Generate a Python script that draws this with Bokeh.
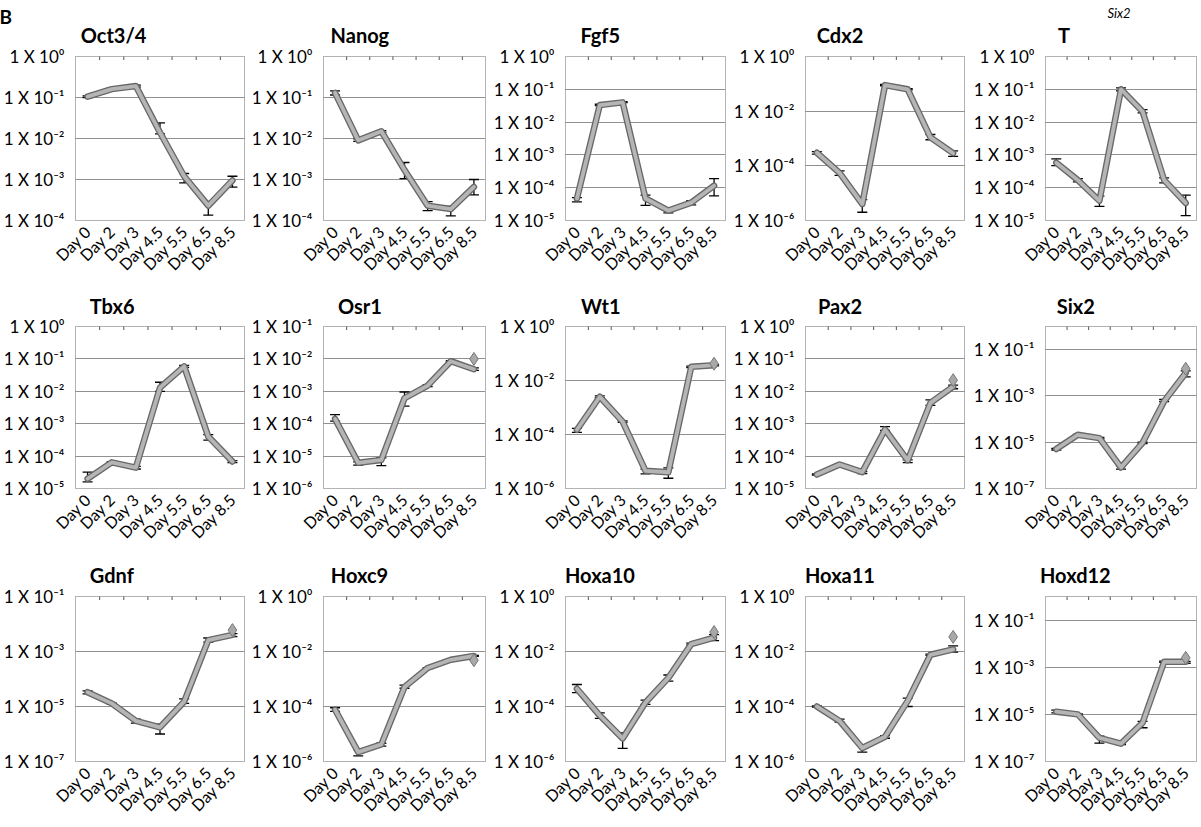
import math
from bokeh.plotting import figure
from bokeh.layouts import gridplot
from bokeh.models import (ColumnDataSource, FixedTicker, Whisker, TeeHead, Title,
                          Range1d)
from bokeh.embed import file_html
from bokeh.resources import INLINE

DAYS = ["Day 0", "Day 2", "Day 3", "Day 4.5", "Day 5.5", "Day 6.5", "Day 8.5"]

OCT4 = [0.105, 0.16, 0.19, 1.4e-2, 1.2e-3, 2.3e-4, 9.5e-4]
OCT4_HI = [0.11, 0.17, 0.2, 2.4e-2, 1.4e-3, 2.7e-4, 1.2e-3]
OCT4_LO = [0.1, 0.15, 0.18, 1.3e-2, 8.3e-4, 1.35e-4, 6.5e-4]

NANOG = [0.13, 9e-3, 1.5e-2, 1.7e-3, 2.3e-4, 1.9e-4, 6.6e-4]
NANOG_HI = [0.145, 9.8e-3, 1.55e-2, 2.6e-3, 2.9e-4, 2.2e-4, 1e-3]
NANOG_LO = [0.115, 8.5e-3, 1.4e-2, 1.05e-3, 1.75e-4, 1.3e-4, 4.2e-4]

FGF5 = [4.7e-5, 3.3e-2, 4e-2, 4.7e-5, 2e-5, 3.5e-5, 1.15e-4]
FGF5_HI = [5e-5, 3.5e-2, 4.2e-2, 5.9e-5, 2.2e-5, 4e-5, 1.9e-4]
FGF5_LO = [3.7e-5, 3.2e-2, 3.9e-2, 2.9e-5, 1.7e-5, 3e-5, 5.6e-5]

CDX2 = [3e-4, 5.5e-5, 4e-6, 9e-2, 6.3e-2, 1.1e-3, 2.9e-4]
CDX2_HI = [3.3e-4, 6.5e-5, 5.8e-6, 9.5e-2, 6.6e-2, 1.4e-3, 3.5e-4]
CDX2_LO = [2.7e-4, 4.5e-5, 2e-6, 8.5e-2, 6e-2, 9e-4, 2.2e-4]

T_GENE = [5.8e-4, 1.7e-4, 4e-5, 0.1, 2.1e-2, 1.7e-4, 3.4e-5]
T_GENE_HI = [7.6e-4, 1.9e-4, 5.5e-5, 0.11, 2.4e-2, 2e-4, 5.9e-5]
T_GENE_LO = [4.7e-4, 1.5e-4, 2.7e-5, 0.09, 1.9e-2, 1.4e-4, 1.4e-5]

TBX6 = [2e-5, 6.4e-5, 4.4e-5, 1.3e-2, 5.9e-2, 4e-4, 6.8e-5]
TBX6_HI = [3.2e-5, 6.8e-5, 4.8e-5, 1.9e-2, 6.3e-2, 4.6e-4, 7.2e-5]
TBX6_LO = [1.6e-5, 6e-5, 4e-5, 1e-2, 5.5e-2, 3.1e-4, 6.3e-5]

OSR1 = [1.4e-4, 6.2e-6, 7.6e-6, 6.1e-4, 1.5e-3, 8.5e-3, 4.8e-3]
OSR1_HI = [1.9e-4, 6.6e-6, 8.9e-6, 9.5e-4, 1.6e-3, 8.9e-3, 5.3e-3]
OSR1_LO = [1.2e-4, 5.3e-6, 5.1e-6, 3.5e-4, 1.4e-3, 8.1e-3, 4.4e-3]

WT1 = [1.5e-4, 2.5e-3, 3e-4, 4.5e-6, 4e-6, 3.2e-2, 3.7e-2]
WT1_HI = [1.7e-4, 2.7e-3, 3.2e-4, 5.2e-6, 5.8e-6, 3.4e-2, 3.9e-2]
WT1_LO = [1.2e-4, 2.3e-3, 2.8e-4, 3.5e-6, 2.4e-6, 3e-2, 3.5e-2]

PAX2 = [2.7e-5, 5.5e-5, 3.2e-5, 6.6e-4, 7.4e-5, 4.4e-3, 1.4e-2]
PAX2_HI = [2.8e-5, 5.8e-5, 3.4e-5, 8.1e-4, 7.7e-5, 5.4e-3, 1.55e-2]
PAX2_LO = [2.6e-5, 5.2e-5, 2.9e-5, 6.2e-4, 6.3e-5, 3.7e-3, 1.2e-2]

SIX2 = [5.1e-6, 2.1e-5, 1.5e-5, 8.1e-7, 9.4e-6, 5.9e-4, 9.8e-3]
SIX2_HI = [5.4e-6, 2.2e-5, 1.6e-5, 9.5e-7, 1e-5, 7e-4, 1.2e-2]
SIX2_LO = [4.6e-6, 2e-5, 1.4e-5, 6.9e-7, 8.8e-6, 5.7e-4, 6.7e-3]

GDNF = [3.3e-5, 1.3e-5, 3e-6, 1.75e-6, 1.5e-5, 2.6e-3, 4e-3]
GDNF_HI = [3.7e-5, 1.35e-5, 3.5e-6, 2.3e-6, 1.9e-5, 3.1e-3, 4.5e-3]
GDNF_LO = [2.9e-5, 1.2e-5, 2.5e-6, 1e-6, 1.3e-5, 2.2e-3, 3.5e-3]

HOXC9 = [7.6e-5, 2.2e-6, 4.2e-6, 5.1e-4, 2.5e-3, 5e-3, 6.9e-3]
HOXC9_HI = [9e-5, 2.7e-6, 4.6e-6, 6e-4, 2.6e-3, 5.2e-3, 7.2e-3]
HOXC9_LO = [6.6e-5, 1.6e-6, 3.6e-6, 4.6e-4, 2.4e-3, 4.8e-3, 6.6e-3]

HOXA10 = [4.4e-4, 4.7e-5, 6.9e-6, 1.4e-4, 1.1e-3, 1.85e-2, 3.2e-2]
HOXA10_HI = [6.3e-4, 5.9e-5, 1.1e-5, 1.7e-4, 1.4e-3, 2e-2, 4.1e-2]
HOXA10_LO = [3.2e-4, 3.7e-5, 3e-6, 1.2e-4, 8.4e-4, 1.7e-2, 2.5e-2]

HOXA11 = [1e-4, 3e-5, 3.1e-6, 7.9e-6, 1.6e-4, 7.6e-3, 1.2e-2]
HOXA11_HI = [1.05e-4, 3.5e-5, 3.6e-6, 8.8e-6, 2e-4, 8e-3, 1.6e-2]
HOXA11_LO = [9.5e-5, 2.7e-5, 2.2e-6, 7e-6, 1e-4, 7.2e-3, 9.5e-3]

HOXD12 = [1.3e-5, 1e-5, 1e-6, 5.7e-7, 4.4e-6, 1.7e-3, 1.7e-3]
HOXD12_HI = [1.5e-5, 1.05e-5, 1.2e-6, 6e-7, 5e-6, 1.8e-3, 1.75e-3]
HOXD12_LO = [1.15e-5, 9.5e-6, 6e-7, 5.2e-7, 2.7e-6, 1.6e-3, 1.45e-3]

GENES = ["Oct3/4", "Nanog", "Fgf5", "Cdx2", "T",
         "Tbx6", "Osr1", "Wt1", "Pax2", "Six2",
         "Gdnf", "Hoxc9", "Hoxa10", "Hoxa11", "Hoxd12"]
VALUES = [OCT4, NANOG, FGF5, CDX2, T_GENE, TBX6, OSR1, WT1, PAX2, SIX2,
          GDNF, HOXC9, HOXA10, HOXA11, HOXD12]
HIGHS = [OCT4_HI, NANOG_HI, FGF5_HI, CDX2_HI, T_GENE_HI, TBX6_HI, OSR1_HI, WT1_HI,
         PAX2_HI, SIX2_HI, GDNF_HI, HOXC9_HI, HOXA10_HI, HOXA11_HI, HOXD12_HI]
LOWS = [OCT4_LO, NANOG_LO, FGF5_LO, CDX2_LO, T_GENE_LO, TBX6_LO, OSR1_LO, WT1_LO,
        PAX2_LO, SIX2_LO, GDNF_LO, HOXC9_LO, HOXA10_LO, HOXA11_LO, HOXD12_LO]
# extra single point (diamond) at Day 8.5
EXTRA = [None, None, None, None, None,
         None, 1e-2, 4.2e-2, 2.2e-2, 1.5e-2,
         6e-3, 4.8e-3, 5.1e-2, 3.4e-2, 2.5e-3]

Y_MIN_EXP = [-4, -4, -5, -6, -5, -5, -6, -6, -5, -7, -7, -6, -6, -6, -7]
Y_MAX_EXP = [0, 0, 0, 0, 0, 0, -1, 0, 0, 0, -1, 0, 0, 0, 0]
TICK_EXPS = [[0, -1, -2, -3, -4], [0, -1, -2, -3, -4], [0, -1, -2, -3, -4, -5],
             [0, -2, -4, -6], [0, -1, -2, -3, -4, -5],
             [0, -1, -2, -3, -4, -5], [-1, -2, -3, -4, -5, -6], [0, -2, -4, -6],
             [0, -1, -2, -3, -4, -5], [-1, -3, -5, -7],
             [-1, -3, -5, -7], [0, -2, -4, -6], [0, -2, -4, -6], [0, -2, -4, -6],
             [-1, -3, -5, -7]]

PANEL_LETTER = "B"
SIDE_NOTE = "Six2"      # small italic note printed above the "T" panel

SUP = str.maketrans("0123456789-", "⁰¹²³⁴⁵⁶⁷⁸⁹⁻")

# ---- layout (pixels) ----
COL_W = [248, 242, 240, 240, 230]
COL_L = [68, 62, 63, 62, 63]
COL_R = [4, 5, 5, 6, 4]
ROW_TOP = [56, 41, 43]
ROW_FRAME = [169, 170, 172]
ROW_BOT = [58, 57, 58]
TITLE_STANDOFF = [19, 17, 19]
TITLE_SHIFT = -15          # title origin sits ~15px right of the frame's left edge

FONT = "Lato"
TITLE_PX = 20
# rough advance widths (em) of Lato Bold, used to centre titles left of frame centre
ADV = {'O': .80, 'c': .47, 't': .35, '3': .58, '/': .40, '4': .58, 'N': .76,
       'a': .52, 'n': .57, 'o': .57, 'g': .52, 'F': .56, 'f': .35, '5': .58,
       'C': .70, 'd': .57, 'x': .52, '2': .58, 'T': .60, 'b': .57, '6': .58,
       's': .43, 'r': .39, '1': .58, 'W': 1.02, 'P': .64, 'i': .27, 'S': .55,
       'G': .78, 'H': .78, '9': .58, '0': .58}


def text_w(s):
    return sum(ADV.get(ch, .55) for ch in s) * TITLE_PX


def style_title(t, text, offset, size, style, standoff):
    t.text = text
    t.align = "left"
    t.offset = offset
    t.text_font = FONT
    t.text_font_style = style
    t.text_font_size = size
    t.text_color = "black"
    t.standoff = standoff


N = len(DAYS)
XPOS = [k + 0.5 for k in range(N)]      # centre of each day's slot

figs = []
for i, gene in enumerate(GENES):
    r, c = divmod(i, 5)
    fw = COL_W[c] - COL_L[c] - COL_R[c]
    fh = ROW_FRAME[r]
    lo_e, hi_e = Y_MIN_EXP[i], Y_MAX_EXP[i]
    p = figure(x_range=Range1d(0, N), y_axis_type="log",
               y_range=Range1d(10.0 ** lo_e, 10.0 ** hi_e),
               width=COL_W[c], height=ROW_TOP[r] + fh + ROW_BOT[r],
               min_border_left=COL_L[c], min_border_right=COL_R[c],
               min_border_top=ROW_TOP[r], min_border_bottom=ROW_BOT[r],
               toolbar_location=None, output_backend="svg")
    p.outline_line_color = "#666666"
    p.outline_line_dash = "1 1"
    p.outline_line_width = 1
    p.background_fill_color = "white"
    p.border_fill_color = "white"

    # titles: p.title is the outermost line, added Titles sit next to the frame
    gene_offset = fw / 2 - 36 - text_w(gene) / 2 + TITLE_SHIFT
    if i == 0:
        style_title(p.title, PANEL_LETTER, 7 - COL_L[c] + TITLE_SHIFT,
                    "19px", "bold", -32)
        gt = Title()
        style_title(gt, gene, gene_offset, f"{TITLE_PX}px", "bold", TITLE_STANDOFF[r])
        p.add_layout(gt, "above")
    elif gene == "T":
        style_title(p.title, SIDE_NOTE, 62, "13px", "italic", -18)
        gt = Title()
        style_title(gt, gene, gene_offset - 12, f"{TITLE_PX}px", "bold",
                    TITLE_STANDOFF[r])
        p.add_layout(gt, "above")
    else:
        style_title(p.title, gene, gene_offset, f"{TITLE_PX}px", "bold",
                    TITLE_STANDOFF[r])

    ticks = [10.0 ** e for e in TICK_EXPS[i]]
    grid = [10.0 ** e for e in TICK_EXPS[i] if lo_e < e < hi_e]
    yax = p.yaxis[0]
    yax.ticker = FixedTicker(ticks=ticks)
    yax.major_label_overrides = {10.0 ** e: "1 X 10" + str(e).translate(SUP)
                                 for e in TICK_EXPS[i]}
    yax.axis_line_color = None
    yax.major_tick_line_color = None
    yax.minor_tick_line_color = None
    yax.major_label_standoff = 5
    yax.major_label_text_font = FONT
    yax.major_label_text_font_size = "17px"
    yax.major_label_text_color = "black"

    p.ygrid[0].ticker = FixedTicker(ticks=grid)
    p.ygrid.grid_line_color = "#222222"
    p.ygrid.grid_line_dash = "1 1"
    p.ygrid.grid_line_width = 1
    p.xgrid.grid_line_color = None

    xax = p.xaxis[0]
    xax.ticker = FixedTicker(ticks=XPOS)
    xax.major_label_overrides = {x: d for x, d in zip(XPOS, DAYS)}
    xax.major_label_orientation = math.pi / 4
    xax.axis_line_color = None
    xax.major_tick_line_color = None
    xax.minor_tick_line_color = None
    xax.major_label_standoff = 2
    xax.major_label_text_font = FONT
    xax.major_label_text_font_size = "16px"
    xax.major_label_text_color = "black"

    # small tick marks hanging from the top border, between the days
    p.scatter(list(range(1, N)), [10.0 ** hi_e] * (N - 1), marker="dash",
              angle=math.pi / 2, size=7, line_color="#555555", line_width=1)

    src = ColumnDataSource(dict(x=XPOS, v=VALUES[i], hi=HIGHS[i], lo=LOWS[i]))
    p.line("x", "v", source=src, line_width=6.5, line_color="#686868",
           line_join="round", line_cap="round")
    p.line("x", "v", source=src, line_width=3.8, line_color="#b5b5b5",
           line_join="round", line_cap="round")
    w = Whisker(base="x", upper="hi", lower="lo", source=src,
                line_color="black", line_width=1.3,
                upper_head=TeeHead(size=10, line_color="black", line_width=1.3),
                lower_head=TeeHead(size=10, line_color="black", line_width=1.3))
    p.add_layout(w)
    if EXTRA[i] is not None:
        p.scatter([XPOS[-1]], [EXTRA[i]], marker="diamond", size=13,
                  fill_color="#a8a8a8", line_color="#777777", line_width=1)
    figs.append(p)

grid_layout = gridplot([figs[0:5], figs[5:10], figs[10:15]], toolbar_location=None)

open("out.html", "w").write(file_html(grid_layout, INLINE))
